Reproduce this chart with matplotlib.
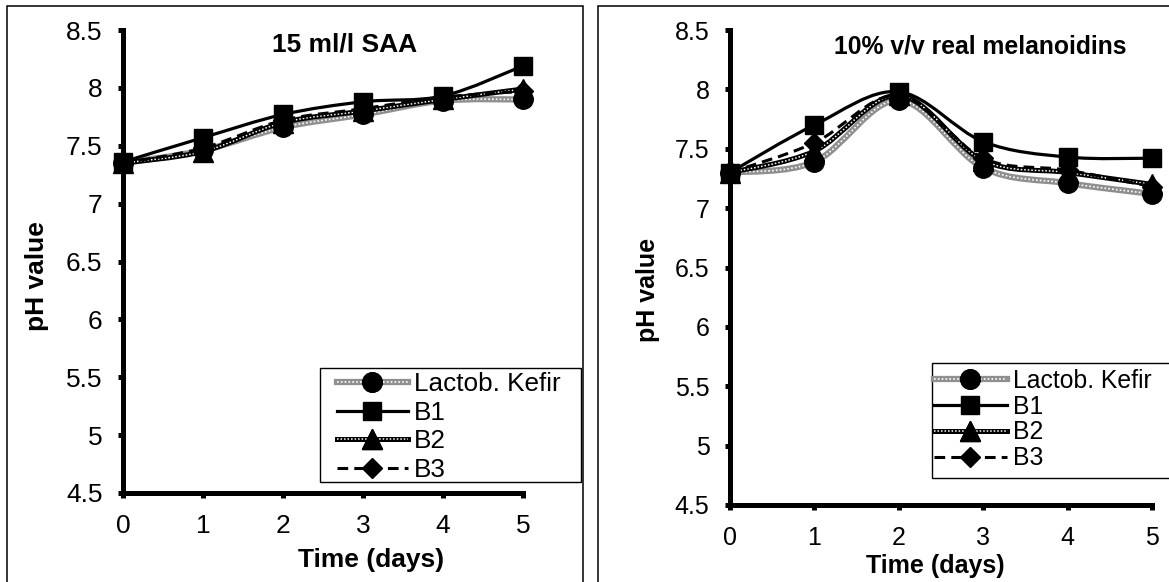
import numpy as np
import matplotlib
matplotlib.use("Agg")
import matplotlib.pyplot as plt
from matplotlib.path import Path
from matplotlib.patches import PathPatch, Rectangle
from matplotlib.lines import Line2D
from matplotlib.ticker import FormatStrFormatter

plt.rcParams['font.family'] = ['Liberation Sans', 'DejaVu Sans']

# --- DATA ---
days = [0, 1, 2, 3, 4, 5]
series_names = ["Lactob. Kefir", "B1", "B2", "B3"]

# 15 ml/l SAA
saa_kefir = [7.35, 7.46, 7.66, 7.77, 7.89, 7.90]
saa_b1 = [7.36, 7.57, 7.77, 7.88, 7.93, 8.19]
saa_b2 = [7.35, 7.45, 7.70, 7.80, 7.90, 7.99]
saa_b3 = [7.35, 7.48, 7.72, 7.82, 7.92, 7.97]

# 10% v/v real melanoidins
mel_kefir = [7.30, 7.39, 7.91, 7.34, 7.21, 7.12]
mel_b1 = [7.30, 7.70, 7.98, 7.56, 7.43, 7.42]
mel_b2 = [7.30, 7.48, 7.95, 7.40, 7.30, 7.20]
mel_b3 = [7.30, 7.55, 7.95, 7.42, 7.32, 7.18]

y_ticks = [4.5, 5, 5.5, 6, 6.5, 7, 7.5, 8, 8.5]

W, H = 1169, 582


def px(x, y):
    # pixel position (from top-left) -> figure fraction
    return x / W, 1 - y / H


def smooth_path(x, y, t=1.0 / 6):
    # excel-like smoothed line: cubic bezier through each point
    pts = np.column_stack([x, y]).astype(float)
    n = len(pts)
    verts = [pts[0]]
    codes = [Path.MOVETO]
    for i in range(n - 1):
        p0 = pts[max(i - 1, 0)]
        p1 = pts[i]
        p2 = pts[i + 1]
        p3 = pts[min(i + 2, n - 1)]
        verts += [p1 + (p2 - p0) * t, p2 - (p3 - p1) * t, p2]
        codes += [Path.CURVE4] * 3
    return Path(verts, codes)


# (line layers, marker, marker size)
styles = {
    "Lactob. Kefir": ([dict(color='#8f8f8f', lw=4.5, ls='-'),
                       dict(color='white', lw=1.2, ls=(0, (1, 1.3)))], 'o', 14),
    "B1": ([dict(color='black', lw=2.3, ls='-')], 's', 13.5),
    "B2": ([dict(color='black', lw=3.6, ls='-'),
            dict(color='white', lw=1.1, ls=(0, (1, 1.3)))], '^', 14),
    "B3": ([dict(color='black', lw=2.2, ls=(0, (3.5, 2)))], 'D', 10),
}


def draw_panel(ax, values, fs):
    for name, ys in zip(series_names, values):
        layers, marker, ms = styles[name]
        for lay in layers:
            patch = PathPatch(smooth_path(days, ys), fill=False, edgecolor=lay['color'],
                              linewidth=lay['lw'], linestyle=lay['ls'], zorder=2,
                              capstyle='butt')
            ax.add_patch(patch)
        ax.plot(days, ys, linestyle='none', marker=marker, markersize=ms,
                color='black', zorder=3, clip_on=False)

    ax.set_xlim(0, 5)
    ax.set_ylim(4.5, 8.5)
    ax.set_xticks(days)
    ax.set_yticks(y_ticks)
    ax.yaxis.set_major_formatter(FormatStrFormatter('%g'))
    for s in ['top', 'right']:
        ax.spines[s].set_visible(False)
    for s in ['left', 'bottom']:
        ax.spines[s].set_linewidth(3.6)
        ax.spines[s].set_capstyle('projecting')
    ax.tick_params(direction='out', length=3.8, width=3.6, labelsize=fs)
    ax.tick_params(axis='x', pad=11)
    ax.tick_params(axis='y', pad=11)


def legend_handles():
    handles = []
    for name in series_names:
        layers, marker, ms = styles[name]
        parts = []
        for k, lay in enumerate(layers):
            parts.append(Line2D([], [], color=lay['color'], lw=lay['lw'], ls=lay['ls'],
                                marker=marker if k == 0 else None, markersize=ms,
                                markerfacecolor='black', markeredgecolor='black'))
        if len(parts) > 1:
            # marker on top of the dotted overlay
            parts.append(Line2D([], [], ls='none', marker=marker, markersize=ms, color='black'))
        handles.append(tuple(parts))
    return handles


fig = plt.figure(figsize=(W / 100, H / 100), dpi=100)

# panel frames
fig.patches.append(Rectangle(px(7, 600), (583 - 7) / W, (600 - 6) / H, transform=fig.transFigure,
                             fill=False, edgecolor='black', linewidth=1.1))
fig.patches.append(Rectangle(px(598, 600), 0.6, (600 - 6) / H, transform=fig.transFigure,
                             fill=False, edgecolor='black', linewidth=1.1))

ax1 = fig.add_axes([123 / W, (H - 493) / H, 400 / W, 463 / H])
ax2 = fig.add_axes([730 / W, (H - 505) / H, 422 / W, 475 / H])

draw_panel(ax1, [saa_kefir, saa_b1, saa_b2, saa_b3], 19)
draw_panel(ax2, [mel_kefir, mel_b1, mel_b2, mel_b3], 18)

# titles and axis labels
fig.text(*px(345, 44), "15 ml/l SAA", ha='center', va='center', fontsize=19, fontweight='bold')
fig.text(*px(371, 560), "Time (days)", ha='center', va='center', fontsize=19, fontweight='bold')
fig.text(*px(37, 276), "pH value", ha='center', va='center', rotation=90, fontsize=19,
         fontweight='bold')

fig.text(*px(980, 46), "10% v/v real melanoidins", ha='center', va='center', fontsize=17.8,
         fontweight='bold')
fig.text(*px(935, 566), "Time (days)", ha='center', va='center', fontsize=18, fontweight='bold')
fig.text(*px(648, 290), "pH value", ha='center', va='center', rotation=90, fontsize=18,
         fontweight='bold')

# legends: box drawn separately, entries placed inside
legend_specs = [
    # (box left, top, right, bottom), entries anchor, font size, spacing, handle length
    ((320, 368, 581, 482), (337, 372), 18.8, 0.18, 2.7),
    ((932, 363, 1180, 478), (934, 369), 17.8, 0.07, 2.95),
]
for (bx0, by0, bx1, by1), anchor, fs, spacing, hl in legend_specs:
    fig.patches.append(Rectangle(px(bx0, by1), (bx1 - bx0) / W, (by1 - by0) / H,
                                 transform=fig.transFigure, facecolor='white',
                                 edgecolor='black', linewidth=1.0, zorder=4))
    leg = fig.legend(legend_handles(), series_names, loc='upper left', bbox_to_anchor=px(*anchor),
                     bbox_transform=fig.transFigure, frameon=False, fontsize=fs,
                     handlelength=hl, handletextpad=0.25, labelspacing=spacing,
                     borderpad=0, borderaxespad=0)
    leg.set_zorder(5)

fig.savefig("out.png", dpi=100)
